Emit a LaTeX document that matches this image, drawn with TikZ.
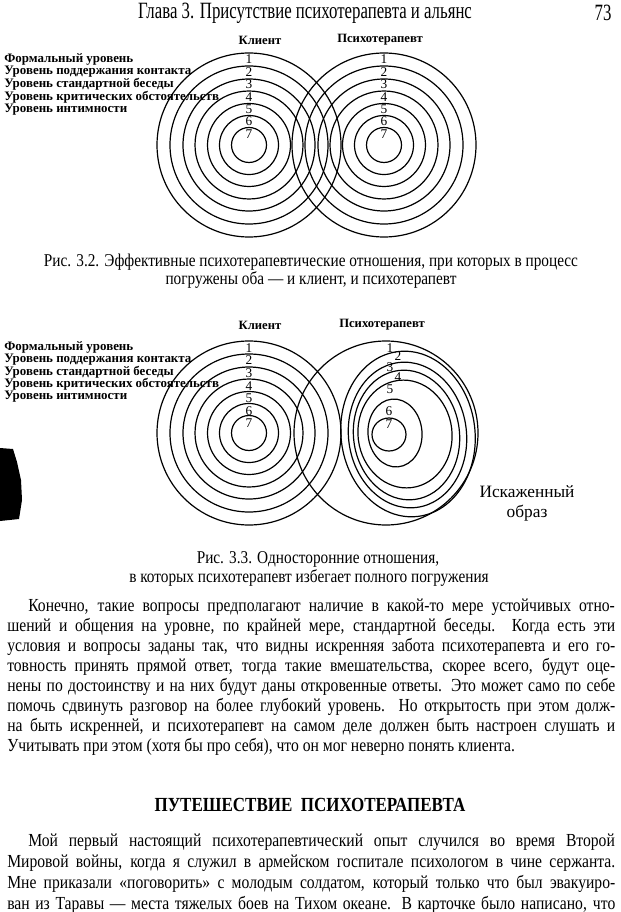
\documentclass[tikz,border=0pt]{standalone}
\usepackage{fontspec}
\setmainfont{Liberation Serif}
\newfontfamily\narrowfont[FakeStretch=0.85]{Liberation Serif}
\newfontfamily\headfont[FakeStretch=0.72]{Liberation Serif}
\usepackage{tikz}

\newcommand{\fullline}[1]{\makebox[456pt][s]{#1}}
\newcommand{\indline}[1]{\makebox[440pt][s]{#1}}

\begin{document}
\begin{tikzpicture}[x=0.75pt,y=0.75pt,yscale=-1,xscale=1,
  ring/.style={line width=0.9pt},
  num/.style={font=\fontsize{10}{10}\selectfont,inner sep=0pt},
  lvl/.style={font=\bfseries\fontsize{9.7}{10}\selectfont,anchor=west,inner sep=0pt},
  who/.style={font=\bfseries\fontsize{9.5}{10}\selectfont,inner sep=0pt},
  capt/.style={font=\narrowfont\fontsize{13.5}{15}\selectfont,inner sep=0pt},
  body/.style={font=\narrowfont\fontsize{13.8}{15}\selectfont,anchor=west,inner sep=0pt}]
\path[use as bounding box] (0,0) rectangle (620,912);
%set diagram left start at 0, and has height of 912

% Text Node
\node (title) at (305,13) [font=\headfont\fontsize{17.5}{20}\selectfont,inner sep=0pt] {Глава 3. Присутствие психотерапевта и альянс};
% Text Node
\node (page) at (603,13) [font=\headfont\fontsize{17.5}{20}\selectfont,inner sep=0pt] {73};

%%%%% Fig 3.2
% Text Node
\node (cl1) at (260,40) [who] {Клиент};
% Text Node
\node (ps1) at (380,40) [who] {Психотерапевт};
% Text Node
\node (lv11) at (4,59) [lvl] {Формальный уровень};
\node (lv12) at (4,72) [lvl] {Уровень поддержания контакта};
\node (lv13) at (4,84.5) [lvl] {Уровень стандартной беседы};
\node (lv14) at (4,97.5) [lvl] {Уровень критических обстоятельств};
\node (lv15) at (4,110) [lvl] {Уровень интимности};
%Shape: Circle [client rings]
\draw [ring] (249,145) circle [radius=92];
\draw [ring] (249,145) circle [radius=79];
\draw [ring] (249,145) circle [radius=66];
\draw [ring] (249,145) circle [radius=54];
\draw [ring] (249,145) circle [radius=41.5];
\draw [ring] (249,145) circle [radius=29.5];
\draw [ring] (249,145) circle [radius=17.5];
%Shape: Circle [therapist rings]
\draw [ring] (384,145) circle [radius=92];
\draw [ring] (384,145) circle [radius=79];
\draw [ring] (384,145) circle [radius=66];
\draw [ring] (384,145) circle [radius=54];
\draw [ring] (384,145) circle [radius=41.5];
\draw [ring] (384,145) circle [radius=29.5];
\draw [ring] (384,145) circle [radius=17.5];
% Text Node
\node (a1) at (249,59) [num] {1};
\node (a2) at (249,72) [num] {2};
\node (a3) at (249,84.5) [num] {3};
\node (a4) at (249,97) [num] {4};
\node (a5) at (249,109.5) [num] {5};
\node (a6) at (249,121.5) [num] {6};
\node (a7) at (249,134) [num] {7};
% Text Node
\node (b1) at (384,59) [num] {1};
\node (b2) at (384,72) [num] {2};
\node (b3) at (384,84.5) [num] {3};
\node (b4) at (384,97) [num] {4};
\node (b5) at (384,109.5) [num] {5};
\node (b6) at (384,121.5) [num] {6};
\node (b7) at (384,134) [num] {7};
% Text Node
\node (cap1) at (311,262) [capt] {Рис. 3.2. Эффективные психотерапевтические отношения, при которых в процесс};
\node (cap1b) at (311,280) [capt] {погружены оба — и клиент, и психотерапевт};

%%%%% Fig 3.3
% Text Node
\node (cl2) at (260,325) [who] {Клиент};
% Text Node
\node (ps2) at (382,325) [who] {Психотерапевт};
% Text Node
\node (lv21) at (4,347) [lvl] {Формальный уровень};
\node (lv22) at (4,360) [lvl] {Уровень поддержания контакта};
\node (lv23) at (4,372) [lvl] {Уровень стандартной беседы};
\node (lv24) at (4,384.5) [lvl] {Уровень критических обстоятельств};
\node (lv25) at (4,397) [lvl] {Уровень интимности};
%Shape: Circle [client rings]
\draw [ring] (249,433) circle [radius=92];
\draw [ring] (249,433) circle [radius=79];
\draw [ring] (249,433) circle [radius=66];
\draw [ring] (249,433) circle [radius=54];
\draw [ring] (249,433) circle [radius=41.5];
\draw [ring] (249,433) circle [radius=29.5];
\draw [ring] (249,433) circle [radius=17.5];
%Shape: Circle [therapist outer ring]
\draw [ring] (386,433) circle [radius=92];
%Shape: Ellipse [distorted image]
\draw [ring, rotate around={-7:(408,434)}] (408,434) ellipse [x radius=67, y radius=83];
\draw [ring, rotate around={-7:(407.5,435)}] (407.5,435) ellipse [x radius=59, y radius=73];
\draw [ring, rotate around={-7:(406.5,435)}] (406.5,435) ellipse [x radius=53, y radius=65];
\draw [ring, rotate around={-7:(405,434)}] (405,434) ellipse [x radius=47, y radius=54];
\draw [ring, rotate around={-5:(395,433)}] (395,433) ellipse [x radius=27, y radius=34];
\draw [ring] (389,434.5) ellipse [x radius=17, y radius=16.5];
% Text Node
\node (c1) at (249,348) [num] {1};
\node (c2) at (249,360.5) [num] {2};
\node (c3) at (249,373) [num] {3};
\node (c4) at (249,386) [num] {4};
\node (c5) at (249,398.5) [num] {5};
\node (c6) at (249,411) [num] {6};
\node (c7) at (249,423) [num] {7};
% Text Node
\node (d1) at (390,348) [num] {1};
\node (d2) at (398,356) [num] {2};
\node (d3) at (390,367) [num] {3};
\node (d4) at (398,377) [num] {4};
\node (d5) at (390,389) [num] {5};
\node (d6) at (389,411) [num] {6};
\node (d7) at (389,424) [num] {7};
% Text Node
\node (dist) at (527,503) [font=\fontsize{13}{15}\selectfont,align=center,inner sep=0pt] {Искаженный\\образ};
% Text Node
\node (cap2) at (318,559) [capt] {Рис. 3.3. Односторонние отношения,};
\node (cap2b) at (309,578) [capt] {в которых психотерапевт избегает полного погружения};
%Shape: Polygon [scan blot]
\fill (0,448) -- (13,449) -- (17,462) -- (21,480) -- (22,500) -- (19,519) -- (0,521) -- cycle;

%%%%% text
% Text Node
\node (p1) at (28,607) [body] {\indline{Конечно, такие вопросы предполагают наличие в какой-то мере устойчивых отно-}};
\node (p2) at (7,627) [body] {\fullline{шений и общения на уровне, по крайней мере, стандартной беседы. Когда есть эти}};
\node (p3) at (7,647) [body] {\fullline{условия и вопросы заданы так, что видны искренняя забота психотерапевта и его го-}};
\node (p4) at (7,667) [body] {\fullline{товность принять прямой ответ, тогда такие вмешательства, скорее всего, будут оце-}};
\node (p5) at (7,687) [body] {\fullline{нены по достоинству и на них будут даны откровенные ответы. Это может само по себе}};
\node (p6) at (7,707) [body] {\fullline{помочь сдвинуть разговор на более глубокий уровень. Но открытость при этом долж-}};
\node (p7) at (7,727) [body] {\fullline{на быть искренней, и психотерапевт на самом деле должен быть настроен слушать и}};
\node (p8) at (7,747) [body] {Учитывать при этом (хотя бы про себя), что он мог неверно понять клиента.};
% Text Node
\node (sect) at (310,805) [font=\bfseries\narrowfont\fontsize{15}{17}\selectfont,inner sep=0pt] {ПУТЕШЕСТВИЕ\ \ ПСИХОТЕРАПЕВТА};
% Text Node
\node (q1) at (28,842) [body] {\indline{Мой первый настоящий психотерапевтический опыт случился во время Второй}};
\node (q2) at (7,863) [body] {\fullline{Мировой войны, когда я служил в армейском госпитале психологом в чине сержанта.}};
\node (q3) at (7,884) [body] {\fullline{Мне приказали «поговорить» с молодым солдатом, который только что был эвакуиро-}};
\node (q4) at (7,905) [body] {\fullline{ван из Таравы — места тяжелых боев на Тихом океане. В карточке было написано, что}};
\end{tikzpicture}
\end{document}
